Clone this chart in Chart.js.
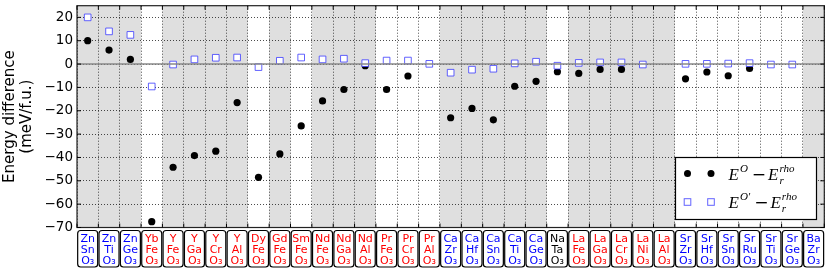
<!DOCTYPE html>
<html>
<head>
<meta charset="utf-8">
<script src="https://cdn.jsdelivr.net/npm/chart.js@4.4.0/dist/chart.umd.min.js"></script>
<style>
  html, body { margin: 0; padding: 0; background: #fff; }
  #wrap { width: 830px; height: 272px; }
</style>
</head>
<body>
<div id="wrap"><canvas id="myChart" width="830" height="272"></canvas></div>
<script>
// compounds A B O3
const siteA = ['Zn','Zn','Zn','Yb','Y','Y','Y','Y','Dy','Gd','Sm','Nd','Nd','Nd','Pr','Pr','Pr',
               'Ca','Ca','Ca','Ca','Ca','Na','La','La','La','La','La','Sr','Sr','Sr','Sr','Sr','Sr','Ba'];
const siteB = ['Sn','Ti','Ge','Fe','Fe','Ga','Cr','Al','Fe','Fe','Fe','Fe','Ga','Al','Fe','Cr','Al',
               'Zr','Hf','Sn','Ti','Ge','Ta','Fe','Ga','Cr','Ni','Al','Zr','Hf','Sn','Ru','Ti','Ge','Zr'];

// E^O - E_r^rho  (meV/f.u.)
const eO = [10, 6, 2, -67.5, -44.2, -39.2, -37.3, -16.5, -48.5, -38.5, -26.5, -15.8, -10.9, -0.7, -10.9, -5.1, null,
            -23, -19, -23.9, -9.5, -7.4, -3.3, -4, -2.3, -2.3, null, null, -6.3, -3.4, -5, -1.9, null, null, null];
// E^O' - E_r^rho  (meV/f.u.)
const eOprime = [20, 14, 12.5, -9.6, -0.2, 2, 2.7, 2.8, -1.3, 1.4, 2.8, 2, 2.3, 0.4, 1.5, 1.5, 0.1,
                 -3.7, -2.4, -2, 0.3, 1, -0.7, 0.5, 0.7, 0.7, -0.2, null, 0.1, 0.1, 0.2, 0.4, -0.2, -0.2, null];

const yTicks = [-70, -60, -50, -40, -30, -20, -10, 0, 10, 20];

const blueA = ['Zn', 'Ca', 'Sr', 'Ba'];
const blackA = ['Na'];
const labelColor = a => blueA.includes(a) ? '#0000ff' : (blackA.includes(a) ? '#000000' : '#ff0000');
const categories = siteA.map((a, i) => a + siteB[i] + 'O3');
const uminus = v => v < 0 ? '\u2212' + Math.abs(v) : String(v);

const bandsPlugin = {
  id: 'bands',
  beforeDraw(chart) {
    const { ctx, chartArea: area, scales: { x } } = chart;
    const half = (x.getPixelForValue(1) - x.getPixelForValue(0)) / 2;
    ctx.save();
    ctx.fillStyle = '#fff';
    ctx.fillRect(0, 0, chart.width, chart.height);
    let group = 0, start = 0;
    for (let i = 1; i <= siteA.length; i++) {
      if (i === siteA.length || siteA[i] !== siteA[i - 1]) {
        if (group % 2 === 0) {
          const l = x.getPixelForValue(start) - half;
          const r = x.getPixelForValue(i - 1) + half;
          ctx.fillStyle = '#dfdfdf';
          ctx.fillRect(l, area.top, r - l, area.bottom - area.top);
        }
        group++;
        start = i;
      }
    }
    ctx.restore();
  }
};

const zeroLine = {
  id: 'zeroLine',
  afterDatasetsDraw(chart) {
    const { ctx, chartArea: area, scales: { y } } = chart;
    const py = y.getPixelForValue(0);
    ctx.save();
    ctx.strokeStyle = '#888';
    ctx.lineWidth = 1.5;
    ctx.beginPath();
    ctx.moveTo(area.left, py);
    ctx.lineTo(area.right, py);
    ctx.stroke();
    ctx.restore();
  }
};

function roundRect(ctx, x, y, w, h, r) {
  ctx.beginPath();
  ctx.moveTo(x + r, y);
  ctx.lineTo(x + w - r, y);
  ctx.quadraticCurveTo(x + w, y, x + w, y + r);
  ctx.lineTo(x + w, y + h - r);
  ctx.quadraticCurveTo(x + w, y + h, x + w - r, y + h);
  ctx.lineTo(x + r, y + h);
  ctx.quadraticCurveTo(x, y + h, x, y + h - r);
  ctx.lineTo(x, y + r);
  ctx.quadraticCurveTo(x, y, x + r, y);
  ctx.closePath();
}

function drawMath(ctx, x, y, parts) {
  parts.forEach(p => {
    ctx.font = p.font;
    ctx.fillText(p.t, x, y + (p.dy || 0));
    if (!p.stay) x += ctx.measureText(p.t).width + (p.gap || 0);
  });
}

const decorations = {
  id: 'decorations',
  afterDraw(chart) {
    const { ctx, chartArea: area, scales: { x, y } } = chart;
    const step = x.getPixelForValue(1) - x.getPixelForValue(0);
    ctx.save();

    // frame
    ctx.strokeStyle = '#222';
    ctx.lineWidth = 1.2;
    ctx.strokeRect(area.left, area.top, area.right - area.left, area.bottom - area.top);

    // inward ticks
    ctx.lineWidth = 1;
    ctx.strokeStyle = '#000';
    ctx.beginPath();
    for (let i = 0; i <= siteA.length; i++) {
      const px = x.getPixelForValue(i) - step / 2;
      ctx.moveTo(px, area.top); ctx.lineTo(px, area.top + 4);
      ctx.moveTo(px, area.bottom); ctx.lineTo(px, area.bottom - 4);
    }
    yTicks.forEach(v => {
      const py = y.getPixelForValue(v);
      ctx.moveTo(area.left, py); ctx.lineTo(area.left + 4, py);
      ctx.moveTo(area.right, py); ctx.lineTo(area.right - 4, py);
    });
    ctx.stroke();

    // compound labels in boxes
    ctx.textAlign = 'center';
    ctx.textBaseline = 'alphabetic';
    siteA.forEach((a, i) => {
      const cx = x.getPixelForValue(i);
      ctx.fillStyle = '#fff';
      ctx.strokeStyle = '#000';
      ctx.lineWidth = 1.2;
      roundRect(ctx, cx - 10, 230.5, 20, 36.5, 3);
      ctx.fill();
      ctx.stroke();
      ctx.fillStyle = labelColor(a);
      ctx.font = '11px "DejaVu Sans"';
      ctx.fillText(a, cx, 242);
      ctx.fillText(siteB[i], cx, 253);
      ctx.fillText('O\u2083', cx, 263.5);
    });

    // y axis title
    ctx.fillStyle = '#000';
    ctx.font = '15px "DejaVu Sans"';
    ctx.textAlign = 'center';
    ctx.textBaseline = 'middle';
    const cy = (area.top + area.bottom) / 2;
    ctx.translate(0, cy);
    ctx.rotate(-Math.PI / 2);
    ctx.fillText('Energy difference', 0, 10);
    ctx.fillText('(meV/f.u.)', 0, 27);
    ctx.setTransform(1, 0, 0, 1, 0, 0);

    // legend
    ctx.fillStyle = '#fff';
    ctx.fillRect(675.5, 157.5, 141, 62);
    ctx.strokeStyle = '#000';
    ctx.lineWidth = 1.2;
    ctx.strokeRect(675.5, 157.5, 141, 62);
    const rows = [173.5, 202];
    [687.5, 711].forEach(mx => {
      ctx.fillStyle = '#000';
      ctx.beginPath();
      ctx.arc(mx, rows[0], 3.5, 0, Math.PI * 2);
      ctx.fill();
      ctx.fillStyle = '#fff';
      ctx.strokeStyle = 'rgba(60,60,255,0.8)';
      ctx.lineWidth = 1;
      ctx.fillRect(mx - 3.3, rows[1] - 3.3, 6.6, 6.6);
      ctx.strokeRect(mx - 3.3, rows[1] - 3.3, 6.6, 6.6);
    });
    ctx.fillStyle = '#000';
    ctx.textAlign = 'left';
    ctx.textBaseline = 'alphabetic';
    const big = 'italic 17px "Liberation Serif"';
    const sml = 'italic 11px "Liberation Serif"';
    const rom = '17px "DejaVu Sans"';
    drawMath(ctx, 728.5, rows[0] + 6, [
      { t: 'E', font: big, gap: 1 },
      { t: 'O', font: sml, dy: -8, gap: 4 },
      { t: '\u2212', font: rom, gap: 2 },
      { t: 'E', font: big, gap: 1 },
      { t: 'r', font: sml, dy: 4, stay: true },
      { t: 'rho', font: sml, dy: -8 }
    ]);
    drawMath(ctx, 728.5, rows[1] + 6, [
      { t: 'E', font: big, gap: 1 },
      { t: 'O\u2032', font: sml, dy: -8, gap: 4 },
      { t: '\u2212', font: rom, gap: 2 },
      { t: 'E', font: big, gap: 1 },
      { t: 'r', font: sml, dy: 4, stay: true },
      { t: 'rho', font: sml, dy: -8 }
    ]);
    ctx.restore();
  }
};

const data = {
  labels: categories,
  datasets: [
    {
      label: "E^O' - E_r^rho",
      data: eOprime,
      showLine: false,
      pointStyle: 'rect',
      pointRadius: 4.7,
      pointBackgroundColor: '#fff',
      pointBorderColor: 'rgba(60,60,255,0.8)',
      pointBorderWidth: 1,
      order: 0
    },
    {
      label: 'E^O - E_r^rho',
      data: eO,
      showLine: false,
      pointStyle: 'circle',
      pointRadius: 3.6,
      pointBackgroundColor: '#000',
      pointBorderColor: '#000',
      pointBorderWidth: 0,
      order: 1
    }
  ]
};

const config = {
  type: 'line',
  data: data,
  options: {
    responsive: false,
    animation: false,
    devicePixelRatio: 1,
    layout: { padding: { left: 0, top: 4, right: 3, bottom: 0 } },
    plugins: {
      legend: { display: false },
      tooltip: { enabled: false }
    },
    scales: {
      x: {
        type: 'category',
        offset: true,
        grid: { offset: true, color: 'rgba(0,0,0,0.7)', lineWidth: 1, drawTicks: false },
        border: { display: false, dash: [1, 2] },
        ticks: { display: false },
        afterFit(s) { s.height = 44.5; s.paddingLeft = 0; s.paddingRight = 0; }
      },
      y: {
        min: -70,
        max: 25,
        afterBuildTicks(s) { s.ticks = yTicks.map(v => ({ value: v })); },
        grid: { color: 'rgba(0,0,0,0.7)', lineWidth: 1, drawTicks: false },
        border: { display: false, dash: [1, 2] },
        ticks: {
          callback: v => uminus(v),
          color: '#000',
          padding: 4,
          font: { family: 'DejaVu Sans', size: 13.5 }
        },
        afterFit(s) { s.width = 77; s.paddingTop = 0; s.paddingBottom = 0; }
      }
    }
  },
  plugins: [bandsPlugin, zeroLine, decorations]
};

const ctx = document.getElementById('myChart').getContext('2d');
const chart = new Chart(ctx, config);
</script>
</body>
</html>
